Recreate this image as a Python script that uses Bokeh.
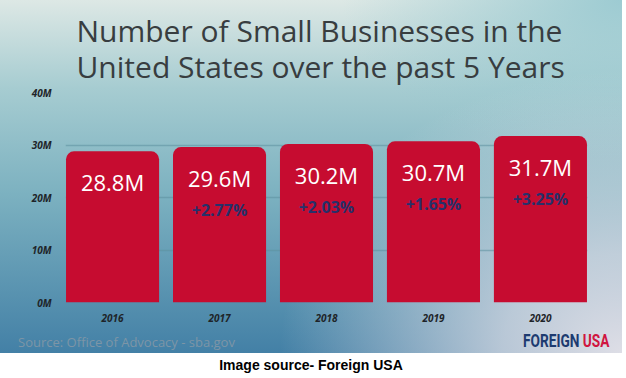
from bokeh.plotting import figure
from bokeh.models import ColumnDataSource, FactorRange, FixedTicker, Div
from bokeh.layouts import column
from bokeh.embed import file_html
from bokeh.resources import INLINE
from bokeh.core.properties import value

# ---- data (millions of small businesses) ----
years = ["2016", "2017", "2018", "2019", "2020"]
businesses = [28.8, 29.6, 30.2, 30.7, 31.7]
value_labels = ["28.8M", "29.6M", "30.2M", "30.7M", "31.7M"]
growth_labels = ["", "+2.77%", "+2.03%", "+1.65%", "+3.25%"]
y_ticks = [0, 10, 20, 30, 40]
y_tick_labels = ["0M", "10M", "20M", "30M", "40M"]

title_text = "Number of Small Businesses in the\nUnited States over the past 5 Years"
source_text = "Source: Office of Advocacy - sba.gov"
logo_left, logo_right = "FOREIGN", "USA"
caption_text = "Image source- Foreign USA"

src = ColumnDataSource(dict(year=years, n=businesses, vlab=value_labels, glab=growth_labels))

p = figure(
    x_range=FactorRange(*years, range_padding=-0.06, range_padding_units="absolute"),
    y_range=(0, 40),
    width=622, height=353,
    output_backend="svg", toolbar_location=None,
    min_border_left=65, min_border_right=35, min_border_top=92, min_border_bottom=51,
)
p.styles = {
    "background": (
        "radial-gradient(ellipse 55% 80% at 100% 100%, rgba(222,222,230,1) 0%, rgba(222,222,230,0.75) 35%, rgba(222,222,230,0) 100%),"
        "radial-gradient(ellipse 45% 45% at 100% 0%, rgba(150,200,208,0.9) 0%, rgba(150,200,208,0) 100%),"
        "linear-gradient(to bottom, #dde8e5 0%, #a6ccd1 25%, #7cb1c0 55%, #4380a6 100%)"
    )
}
p.background_fill_alpha = 0
p.border_fill_alpha = 0
p.outline_line_color = None

p.title.text = title_text
p.title.align = "left"
p.title.offset = 11
p.title.standoff = 10
p.title.text_font = "Open Sans"
p.title.text_font_size = "30px"
p.title.text_font_style = "normal"
p.title.text_color = "#383d40"
p.title.text_line_height = 0.9

p.vbar(x="year", top="n", width=0.87, source=src, fill_color="#c60c30",
       line_color=None, border_radius=(8, 8, 0, 0))

p.text(x="year", y="n", text="vlab", source=src, y_offset=31,
       text_align="center", text_baseline="middle",
       text_font=value("Open Sans"), text_font_size="22px", text_color="white")
p.text(x="year", y="n", text="glab", source=src, y_offset=63,
       text_align="center", text_baseline="middle",
       text_font=value("Open Sans"), text_font_size="16px", text_font_style="bold",
       text_color="#27306a")

# axes
p.yaxis.ticker = FixedTicker(ticks=y_ticks)
p.yaxis.major_label_overrides = {t: l for t, l in zip(y_ticks, y_tick_labels)}
for ax in (p.xaxis[0], p.yaxis[0]):
    ax.axis_line_color = None
    ax.major_tick_line_color = None
    ax.minor_tick_line_color = None
    ax.major_label_text_font = "Open Sans"
    ax.major_label_text_font_style = "bold italic"
    ax.major_label_text_font_size = "10px"
    ax.major_label_text_color = "#1e2428"
p.yaxis.major_label_standoff = 8
p.xaxis.major_label_standoff = 5

p.xgrid.grid_line_color = None
p.ygrid.grid_line_color = "#5d8f9e"
p.ygrid.grid_line_alpha = 0.55
p.ygrid.grid_line_width = 1.5

# footer (source + logo overlaid on the bottom strip of the chart) and caption
footer_html = (
    '<div style="position:relative;width:622px;height:25px;">'
    f'<div style="position:absolute;left:18px;top:-19px;line-height:16px;white-space:nowrap;'
    f'font-family:\'Open Sans\',sans-serif;font-size:13px;color:#7d95a6;">{source_text}</div>'
    f'<div style="position:absolute;left:523px;top:-22px;line-height:20px;white-space:nowrap;'
    f'font-family:Roboto,sans-serif;font-weight:bold;font-size:18px;'
    f'transform:scaleX(0.76);transform-origin:0 50%;">'
    f'<span style="color:#1d3b70;">{logo_left}</span> '
    f'<span style="color:#d0153f;">{logo_right}</span></div>'
    f'<div style="position:absolute;left:0;top:0;width:622px;height:25px;line-height:25px;'
    f'text-align:center;font-family:\'Liberation Sans\',Arial,sans-serif;font-weight:bold;'
    f'font-size:14px;color:#000;">{caption_text}</div>'
    '</div>'
)
caption = Div(text=footer_html, width=622, height=25, margin=(0, 0, 0, 0))

layout = column(p, caption, spacing=0)
open("out.html", "w").write(file_html(layout, INLINE))
